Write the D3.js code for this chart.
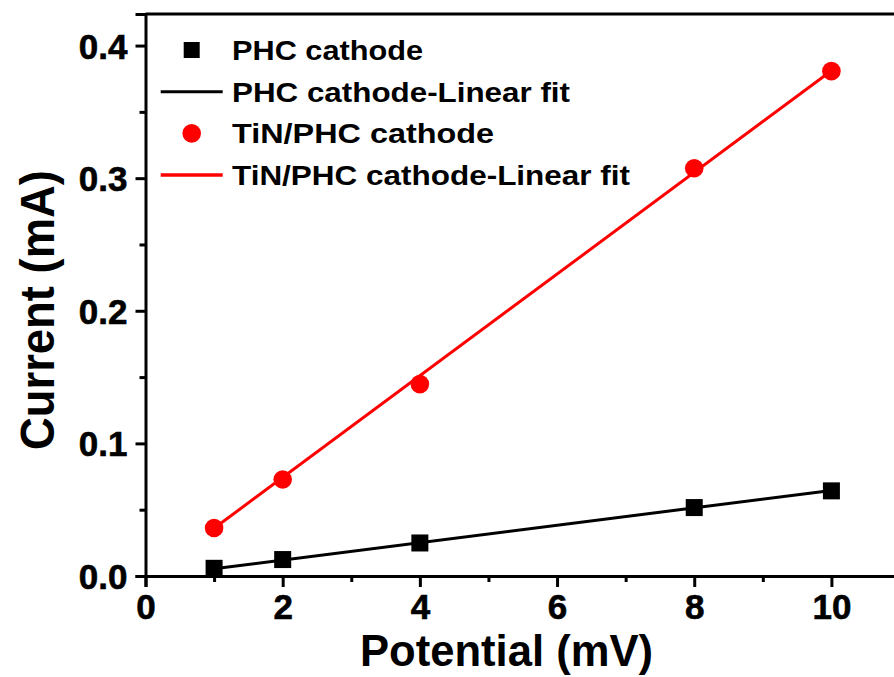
<!DOCTYPE html>
<html>
<head>
<meta charset="utf-8">
<script src="https://cdn.jsdelivr.net/npm/d3@7"></script>
<style>
  html, body { margin: 0; padding: 0; background: #fff; overflow: hidden; }
  text { font-family: "Liberation Sans", Arial, sans-serif; font-weight: bold; }
</style>
</head>
<body>
<div id="chart"></div>
<script>
// potential (mV) and current (mA)
const potential = [1, 2, 4, 8, 10];
const phcCurrent = [0.0058, 0.0124, 0.0249, 0.0516, 0.0642];
const tinCurrent = [0.0362, 0.0728, 0.1447, 0.3075, 0.3807];

// linear fit end points
const fitPotential = [1, 10];
const phcFit = [0.0055, 0.0645];
const tinFit = [0.0360, 0.3810];

const xTicks = [0, 2, 4, 6, 8, 10];
const xMinor = [1, 3, 5, 7, 9, 11];
const yTicks = [0, 0.1, 0.2, 0.3, 0.4];
const yMinor = [0.05, 0.15, 0.25, 0.35];

const legendLabels = ["PHC cathode", "PHC cathode-Linear fit", "TiN/PHC cathode", "TiN/PHC cathode-Linear fit"];

const width = 894, height = 677;
const margin = {top: 14, left: 145.5, bottom: 101, right: -6};

const svg = d3.select("#chart").append("svg")
    .attr("width", width)
    .attr("height", height)
    .attr("viewBox", [0, 0, width, height]);

const x = d3.scaleLinear([0, 11], [margin.left, width - margin.right]);
const y = d3.scaleLinear([0, 0.4238], [height - margin.bottom, margin.top]);

const axisColor = "#000";
const lw = 3;

// top frame line
svg.append("line")
    .attr("x1", x(0)).attr("x2", x(11))
    .attr("y1", y(0.4238)).attr("y2", y(0.4238))
    .attr("stroke", axisColor).attr("stroke-width", lw);

// x axis
svg.append("g")
    .attr("transform", `translate(0,${y(0)})`)
    .call(d3.axisBottom(x).tickValues(xTicks).tickSize(11).tickPadding(7).tickFormat(d3.format("d")))
    .call(g => g.select(".domain").attr("stroke-width", lw))
    .call(g => g.selectAll(".tick line").attr("stroke-width", 3))
    .call(g => g.selectAll(".tick text").attr("font-size", 35).attr("fill", "#000")
        .attr("stroke", "#000").attr("stroke-width", 0.6));

svg.append("g")
    .attr("transform", `translate(0,${y(0)})`)
    .call(d3.axisBottom(x).tickValues(xMinor).tickSize(6).tickFormat(""))
    .call(g => g.select(".domain").remove())
    .call(g => g.selectAll(".tick line").attr("stroke-width", 3));

// y axis
svg.append("g")
    .attr("transform", `translate(${x(0)},0)`)
    .call(d3.axisLeft(y).tickValues(yTicks).tickSize(10).tickPadding(8).tickFormat(d3.format(".1f")))
    .call(g => g.select(".domain").attr("stroke-width", lw))
    .call(g => g.selectAll(".tick line").attr("stroke-width", 3))
    .call(g => g.selectAll(".tick text").attr("font-size", 35).attr("fill", "#000").attr("dy", "0.36em")
        .attr("stroke", "#000").attr("stroke-width", 0.6));

svg.append("g")
    .attr("transform", `translate(${x(0)},0)`)
    .call(d3.axisLeft(y).tickValues(yMinor).tickSize(6).tickFormat(""))
    .call(g => g.select(".domain").remove())
    .call(g => g.selectAll(".tick line").attr("stroke-width", 3));

// axis titles
svg.append("text")
    .attr("x", 506.5)
    .attr("y", 666)
    .attr("text-anchor", "middle")
    .attr("font-size", 45)
    .attr("textLength", 293)
    .attr("lengthAdjust", "spacingAndGlyphs")
    .text("Potential (mV)");

svg.append("text")
    .attr("transform", `translate(54,310) rotate(-90)`)
    .attr("text-anchor", "middle")
    .attr("font-size", 49)
    .attr("textLength", 280)
    .attr("lengthAdjust", "spacingAndGlyphs")
    .text("Current (mA)");

// fit lines
const line = d3.line().x(d => x(d[0])).y(d => y(d[1]));
svg.append("path")
    .datum(d3.zip(fitPotential, phcFit))
    .attr("fill", "none").attr("stroke", "#000").attr("stroke-width", 3)
    .attr("d", line);
svg.append("path")
    .datum(d3.zip(fitPotential, tinFit))
    .attr("fill", "none").attr("stroke", "#ff0000").attr("stroke-width", 3)
    .attr("d", line);

// markers
const sq = 17;
svg.append("g")
  .selectAll("rect")
  .data(d3.zip(potential, phcCurrent))
  .join("rect")
    .attr("x", d => x(d[0]) - sq / 2)
    .attr("y", d => y(d[1]) - sq / 2)
    .attr("width", sq).attr("height", sq)
    .attr("fill", "#000");

svg.append("g")
  .selectAll("circle")
  .data(d3.zip(potential, tinCurrent))
  .join("circle")
    .attr("cx", d => x(d[0]))
    .attr("cy", d => y(d[1]))
    .attr("r", 9.3)
    .attr("fill", "#ff0000");

// legend
const legend = svg.append("g");
const rowY = i => 50 + i * 41.7;
const legendWidths = [191, 338, 262, 398];
legend.append("rect")
    .attr("x", 191.7 - 8).attr("y", rowY(0) - 8)
    .attr("width", 16).attr("height", 16).attr("fill", "#000");
legend.append("line")
    .attr("x1", 160.7).attr("x2", 222.7).attr("y1", rowY(1)).attr("y2", rowY(1))
    .attr("stroke", "#000").attr("stroke-width", 3);
legend.append("circle")
    .attr("cx", 191.7).attr("cy", rowY(2)).attr("r", 9.3).attr("fill", "#ff0000");
legend.append("line")
    .attr("x1", 160.7).attr("x2", 222.7).attr("y1", rowY(3)).attr("y2", rowY(3))
    .attr("stroke", "#ff0000").attr("stroke-width", 3.5);

legend.selectAll("text")
  .data(legendLabels)
  .join("text")
    .attr("x", 232)
    .attr("y", (d, i) => rowY(i))
    .attr("dy", "0.36em")
    .attr("font-size", 28)
    .attr("textLength", (d, i) => legendWidths[i])
    .attr("lengthAdjust", "spacingAndGlyphs")
    .text(d => d);
</script>
</body>
</html>
